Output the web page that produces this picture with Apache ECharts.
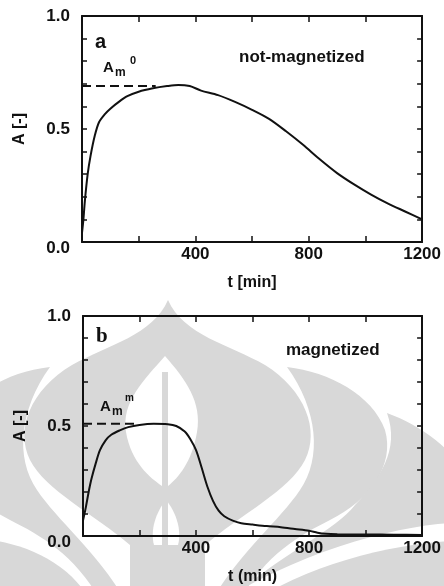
<!DOCTYPE html>
<html>
<head>
<meta charset="utf-8">
<script src="https://cdn.jsdelivr.net/npm/echarts@6/dist/echarts.min.js"></script>
<style>
  html, body { margin: 0; padding: 0; background: #ffffff; }
  #chart { width: 444px; height: 586px; }
</style>
</head>
<body>
<div id="chart"></div>
<script>
// Absorbance A over time t [min] for a non-magnetized (a) and magnetized (b) sample
const timeA = [0, 5, 10, 20, 30, 45, 60, 80, 100, 130, 160, 200, 250, 300, 340, 380, 420, 480, 540, 600, 660, 720, 780, 840, 900, 960, 1020, 1080, 1140, 1200];
const absA  = [0.04, 0.10, 0.18, 0.30, 0.38, 0.47, 0.53, 0.565, 0.59, 0.62, 0.645, 0.665, 0.68, 0.69, 0.695, 0.69, 0.67, 0.65, 0.62, 0.585, 0.545, 0.49, 0.43, 0.365, 0.305, 0.255, 0.21, 0.17, 0.135, 0.10];

const timeB = [0, 5, 10, 20, 30, 45, 60, 80, 100, 130, 160, 200, 250, 300, 330, 360, 380, 400, 420, 440, 460, 480, 500, 530, 560, 600, 650, 700, 750, 800, 830, 860, 900, 1000, 1100, 1200];
const absB  = [0.07, 0.10, 0.13, 0.20, 0.26, 0.33, 0.39, 0.435, 0.46, 0.48, 0.495, 0.505, 0.51, 0.508, 0.50, 0.475, 0.44, 0.39, 0.31, 0.225, 0.16, 0.115, 0.09, 0.07, 0.058, 0.052, 0.045, 0.04, 0.032, 0.024, 0.015, 0.01, 0.008, 0.007, 0.006, 0.005];

// Maximum absorbance levels (dashed guides)
const peakA = 0.69, peakAEnd = 260;
const peakB = 0.51, peakBEnd = 190;

// Axis ranges and tick labels
const tMax = 1200, tStep = 200;
const tLabels = [400, 800, 1200];
const aLabels = [0.0, 0.5, 1.0];

const INK = '#111111';
const FONT = 'Liberation Sans, Arial, sans-serif';

const chart = echarts.init(document.getElementById('chart'));

function xAxes(grid, name) {
  const base = {
    type: 'value', gridIndex: grid, min: 0, max: tMax, interval: tStep,
    splitLine: { show: false },
    axisLine: { onZero: false, lineStyle: { color: INK, width: 2 } },
    axisTick: { inside: true, length: 6, lineStyle: { color: INK, width: 1.5 } }
  };
  return [
    Object.assign({}, base, {
      position: 'bottom',
      axisLabel: {
        color: INK, fontFamily: FONT, fontWeight: 'bold', fontSize: 17, margin: 4,
        formatter: v => tLabels.includes(v) ? String(v) : ''
      },
      name: name, nameLocation: 'middle', nameGap: 33,
      nameTextStyle: { color: INK, fontFamily: FONT, fontWeight: 'bold', fontSize: 16 }
    }),
    Object.assign({}, base, { position: 'top', axisLabel: { show: false } })
  ];
}

function yAxes(grid) {
  const base = {
    type: 'value', gridIndex: grid, min: 0, max: 1, interval: 0.1,
    splitLine: { show: false },
    axisLine: { onZero: false, lineStyle: { color: INK, width: 2 } },
    axisTick: { inside: true, length: 5, lineStyle: { color: INK, width: 1.5 } }
  };
  return [
    Object.assign({}, base, {
      position: 'left',
      axisLabel: {
        color: INK, fontFamily: FONT, fontWeight: 'bold', fontSize: 17, margin: 12,
        formatter: v => {
          if (!aLabels.some(l => Math.abs(l - v) < 1e-6)) return '';
          return v === 0 ? '{low|0.0}' : v.toFixed(1);
        },
        rich: { low: { color: INK, fontFamily: FONT, fontWeight: 'bold', fontSize: 17, padding: [12, 0, 0, 0] } }
      },
      name: 'A [-]', nameLocation: 'middle', nameGap: 54, nameRotate: 90,
      nameTextStyle: { color: INK, fontFamily: FONT, fontWeight: 'bold', fontSize: 16 }
    }),
    Object.assign({}, base, { position: 'right', axisLabel: { show: false } })
  ];
}

function pairs(xs, ys) { return xs.map((x, i) => [x, ys[i]]); }

const curve = (xi, yi, data) => ({
  type: 'line', xAxisIndex: xi, yAxisIndex: yi, data: data,
  showSymbol: false, smooth: 0.3, z: 5,
  lineStyle: { color: INK, width: 2 }
});
const guide = (xi, yi, level, end) => ({
  type: 'line', xAxisIndex: xi, yAxisIndex: yi, data: [[0, level], [end, level]],
  showSymbol: false, z: 5,
  lineStyle: { color: INK, width: 2, type: [9, 5] }
});

// Faint background emblem, outlined with simple M/C/L/Z path strings
const SHADE = '#d8d8d8';
const emblem = [
  // central dome
  'M168,300 C183,335 230,345 265,365 C305,390 320,430 305,460 C290,490 240,515 205,545 L205,600 L130,600 L130,545 C95,515 45,490 30,460 C15,430 30,390 72,365 C108,345 153,335 168,300 Z',
  // right petals
  'M287,367 C330,372 372,395 385,430 C395,465 370,500 330,520 C300,535 265,555 240,600 L212,600 C240,552 280,520 300,490 C322,458 318,410 287,367 Z',
  'M387,413 C420,425 455,450 470,480 L470,522 C420,522 330,540 240,590 C290,550 335,530 355,505 C380,478 400,450 387,413 Z',
  'M470,540 C400,542 320,560 255,600 L470,600 Z',
  // left petals
  'M50,367 C5,372 -32,395 -45,430 C-55,465 -30,500 10,520 C40,535 75,555 100,600 L125,600 C97,552 57,520 37,490 C15,458 19,410 50,367 Z',
  'M-10,540 C30,545 70,565 90,600 L-10,600 Z'
];
const emblemCuts = [
  // inner opening of the dome
  'M165,356 C186,380 202,402 197,432 C192,462 178,478 168,486 L162,486 C150,478 131,462 126,432 C121,402 144,380 165,356 Z',
  'M166,500 C176,512 182,530 178,545 L154,545 C150,530 156,512 166,500 Z'
];

// Turn an M/C/L/Z path string into polygon points
function pathPoints(d) {
  const tok = d.replace(/,/g, ' ').trim().split(/\s+|(?=[MCLZ])|(?<=[MCLZ])/).filter(s => s.length);
  const pts = [];
  let i = 0, cmd = null, cur = [0, 0];
  while (i < tok.length) {
    if (/^[MCLZ]$/.test(tok[i])) { cmd = tok[i++]; if (cmd === 'Z') continue; }
    if (cmd === 'M' || cmd === 'L') {
      cur = [+tok[i], +tok[i + 1]]; i += 2; pts.push(cur.slice());
    } else if (cmd === 'C') {
      const c1 = [+tok[i], +tok[i + 1]], c2 = [+tok[i + 2], +tok[i + 3]], p = [+tok[i + 4], +tok[i + 5]];
      i += 6;
      for (let k = 1; k <= 16; k++) {
        const t = k / 16, u = 1 - t;
        pts.push([
          u * u * u * cur[0] + 3 * u * u * t * c1[0] + 3 * u * t * t * c2[0] + t * t * t * p[0],
          u * u * u * cur[1] + 3 * u * u * t * c1[1] + 3 * u * t * t * c2[1] + t * t * t * p[1]
        ]);
      }
      cur = p;
    } else { i++; }
  }
  return pts;
}

const graphics = [];
emblem.forEach(p => graphics.push({ type: 'polygon', silent: true, z: -20, shape: { points: pathPoints(p) }, style: { fill: SHADE } }));
emblemCuts.forEach(p => graphics.push({ type: 'polygon', silent: true, z: -19, shape: { points: pathPoints(p) }, style: { fill: '#ffffff' } }));
graphics.push({ type: 'rect', silent: true, z: -18, shape: { x: 162, y: 372, width: 6, height: 214 }, style: { fill: SHADE } });

const txt = (x, y, s, size, extra) => ({
  type: 'text', left: x, top: y, z: 20, silent: true,
  style: Object.assign({ text: s, fill: INK, font: 'bold ' + size + 'px ' + FONT }, extra || {})
});

graphics.push(
  txt(95, 32, 'a', 20),
  txt(239, 49, 'not-magnetized', 17),
  txt(103, 60, 'A', 15),
  txt(115, 67, 'm', 12),
  txt(130, 55, '0', 11),
  { type: 'text', left: 96, top: 326, z: 20, silent: true,
    style: { text: 'b', fill: INK, font: 'bold 21px Liberation Serif, Times New Roman, serif' } },
  txt(286, 342, 'magnetized', 17),
  txt(100, 399, 'A', 15),
  txt(112, 406, 'm', 12),
  txt(125, 393, 'm', 10)
);

chart.setOption({
  backgroundColor: '#ffffff',
  animation: false,
  grid: [
    { left: 82, top: 16, width: 346, height: 226 },
    { left: 83, top: 316, width: 345, height: 223 }
  ],
  xAxis: [].concat(xAxes(0, 't [min]'), xAxes(1, 't (min)')),
  yAxis: [].concat(yAxes(0), yAxes(1)),
  graphic: graphics,
  series: [
    curve(0, 0, pairs(timeA, absA)),
    guide(0, 0, peakA, peakAEnd),
    curve(2, 2, pairs(timeB, absB)),
    guide(2, 2, peakB, peakBEnd)
  ]
});
</script>
</body>
</html>
